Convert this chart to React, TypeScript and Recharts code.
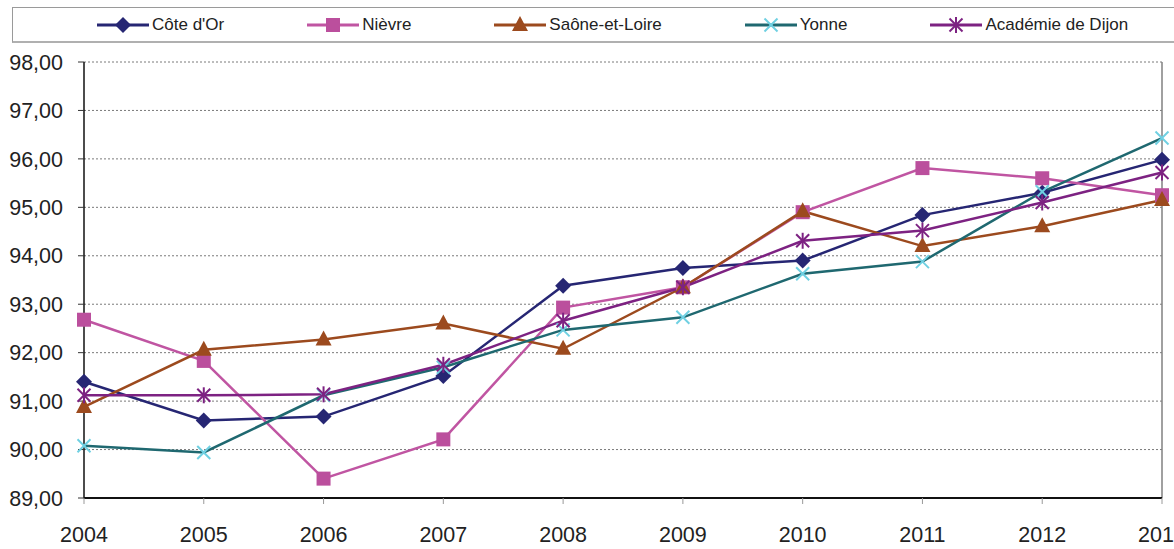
import { LineChart, Line, XAxis, YAxis, CartesianGrid, ReferenceLine } from 'recharts';

const years = ['2004', '2005', '2006', '2007', '2008', '2009', '2010', '2011', '2012', '2013'];

const coteDOr = [91.4, 90.6, 90.68, 91.52, 93.38, 93.75, 93.9, 94.84, 95.3, 95.98];
const nievre = [92.68, 91.83, 89.4, 90.21, 92.93, 93.35, 94.9, 95.81, 95.6, 95.25];
const saone = [90.88, 92.06, 92.27, 92.6, 92.08, 93.35, 94.92, 94.2, 94.61, 95.15];
const yonne = [90.08, 89.94, 91.12, 91.7, 92.47, 92.73, 93.63, 93.88, 95.32, 96.43];
const academie = [91.12, 91.12, 91.14, 91.75, 92.66, 93.35, 94.31, 94.52, 95.1, 95.72];

const yTicks = [89, 90, 91, 92, 93, 94, 95, 96, 97, 98];

type Kind = 'diamond' | 'square' | 'triangle' | 'cross' | 'star';

const series: { key: string; name: string; values: number[]; line: string; mark: string; kind: Kind }[] = [
    { key: 'cote', name: "Côte d'Or", values: coteDOr, line: '#262673', mark: '#262673', kind: 'diamond' },
    { key: 'nievre', name: 'Nièvre', values: nievre, line: '#C055A2', mark: '#BB4F9D', kind: 'square' },
    { key: 'saone', name: 'Saône-et-Loire', values: saone, line: '#9C4A1E', mark: '#9C4A1E', kind: 'triangle' },
    { key: 'yonne', name: 'Yonne', values: yonne, line: '#1F6870', mark: '#6FD0E2', kind: 'cross' },
    { key: 'academie', name: 'Académie de Dijon', values: academie, line: '#7D2282', mark: '#7D2282', kind: 'star' },
];

const chartData = years.map((year, i) => {
    const row: Record<string, string | number> = { year };
    series.forEach((s) => {
        row[s.key] = s.values[i];
    });
    return row;
});

function Marker({ kind, cx, cy, color }: { kind: Kind; cx: number; cy: number; color: string }) {
    if (kind === 'diamond') {
        return <polygon points={`${cx},${cy - 8} ${cx + 8},${cy} ${cx},${cy + 8} ${cx - 8},${cy}`} fill={color} />;
    }
    if (kind === 'square') {
        return <rect x={cx - 7} y={cy - 7} width={14} height={14} fill={color} />;
    }
    if (kind === 'triangle') {
        return <polygon points={`${cx},${cy - 9} ${cx + 8},${cy + 6} ${cx - 8},${cy + 6}`} fill={color} />;
    }
    const d = 6.5;
    return (
        <g stroke={color} strokeWidth={2}>
            <line x1={cx - d} y1={cy - d} x2={cx + d} y2={cy + d} />
            <line x1={cx - d} y1={cy + d} x2={cx + d} y2={cy - d} />
            {kind === 'star' && <line x1={cx} y1={cy - 8} x2={cx} y2={cy + 8} />}
        </g>
    );
}

function LegendBox() {
    return (
        <div
            style={{
                position: 'absolute',
                left: 12,
                top: 7,
                width: 1180,
                height: 36,
                borderTop: '1px solid #9a9a9a',
                borderLeft: '1px solid #9a9a9a',
                borderBottom: '2px solid #b0b0b0',
                boxSizing: 'border-box',
                display: 'flex',
                alignItems: 'center',
                paddingLeft: 84,
                gap: 83,
                fontFamily: '"Liberation Sans", Arial, sans-serif',
                fontSize: 17,
                color: '#222',
            }}
        >
            {series.map((s) => (
                <div key={s.key} style={{ display: 'flex', alignItems: 'center' }}>
                    <svg width={52} height={20}>
                        <line x1={0} y1={10} x2={52} y2={10} stroke={s.line} strokeWidth={3} />
                        <Marker kind={s.kind} cx={26} cy={10} color={s.mark} />
                    </svg>
                    <span style={{ marginLeft: 3 }}>{s.name}</span>
                </div>
            ))}
        </div>
    );
}

export default function App() {
    return (
        <div
            style={{
                position: 'absolute',
                left: 0,
                top: 0,
                width: 1174,
                height: 549,
                overflow: 'hidden',
                background: '#fff',
            }}
        >
            <LineChart
                width={1200}
                height={549}
                data={chartData}
                margin={{ top: 62, right: 38, left: 0, bottom: 0 }}
                style={{ fontFamily: '"Liberation Sans", Arial, sans-serif' }}
            >
                <CartesianGrid vertical={false} stroke="#7a7a7a" strokeDasharray="2 2" />
                <XAxis
                    dataKey="year"
                    height={51}
                    tick={{ fontSize: 21.5, fill: '#222' }}
                    tickSize={6}
                    tickMargin={23}
                    tickLine={{ stroke: '#999' }}
                    axisLine={{ stroke: '#111', strokeWidth: 2 }}
                    interval={0}
                />
                <YAxis
                    width={84}
                    domain={[89, 98]}
                    ticks={yTicks}
                    tick={{ fontSize: 21.5, fill: '#222' }}
                    tickFormatter={(v: number) => v.toFixed(2).replace('.', ',')}
                    tickSize={6}
                    tickMargin={15}
                    tickLine={{ stroke: '#333' }}
                    axisLine={{ stroke: '#111', strokeWidth: 1.5 }}
                />
                <ReferenceLine x="2013" stroke="#808080" strokeWidth={1.5} />
                {series.map((s) => (
                    <Line
                        key={s.key}
                        dataKey={s.key}
                        name={s.name}
                        stroke={s.line}
                        strokeWidth={2.5}
                        isAnimationActive={false}
                        dot={(p: any) => <Marker key={`${s.key}-${p.index}`} kind={s.kind} cx={p.cx} cy={p.cy} color={s.mark} />}
                    />
                ))}
            </LineChart>
            <LegendBox />
        </div>
    );
}
